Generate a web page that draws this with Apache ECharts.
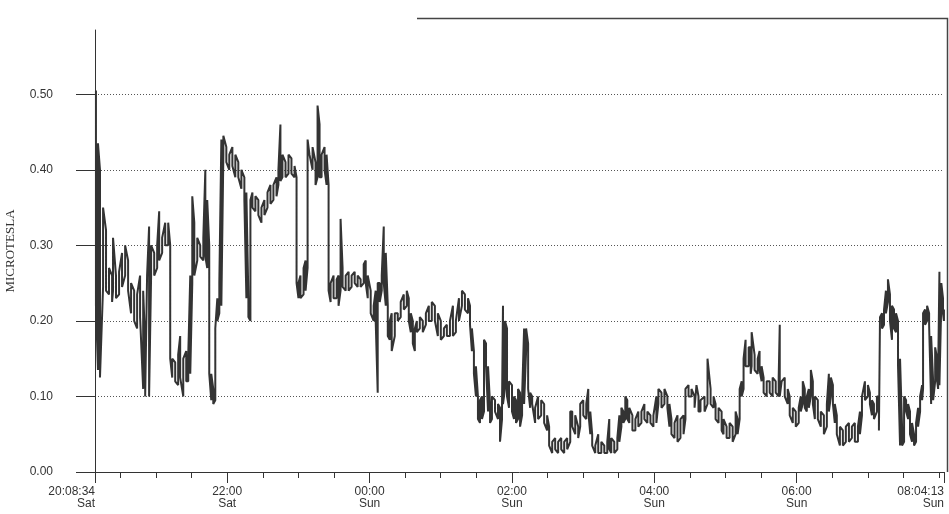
<!DOCTYPE html>
<html>
<head>
<meta charset="utf-8">
<script src="https://cdn.jsdelivr.net/npm/echarts@6.0.0/dist/echarts.min.js"></script>
<style>
  html, body { margin: 0; padding: 0; background: #fff; }
  #target { width: 949px; height: 514px; }
</style>
</head>
<body>
<div id="target"></div>
<script>
// minutes after 20:08:34 (Sat), with the high / low reading of the trace at that moment
const minutes = [
  0.8, 2.5, 4.2, 6.8, 9.3, 11.8, 14.4, 15.2, 17.7, 20.3, 22.8, 25.4, 27.9, 30.4, 33.0, 35.5, 38.0, 40.6, 42.3, 43.9,
  45.6, 47.3, 49.9, 52.4, 54.1, 56.6, 59.2, 61.7, 63.4, 65.1, 67.6, 70.1, 71.8, 74.4, 76.9, 78.6, 80.3, 82.0, 83.7, 86.2,
  88.7, 91.3, 93.0, 94.6, 96.3, 98.0, 99.7, 101.4, 103.1, 104.8, 106.5, 108.2, 110.7, 113.2, 115.8, 118.3, 120.8, 123.4, 125.9, 127.6,
  129.3, 131.0, 132.7, 135.2, 137.7, 140.3, 142.8, 145.4, 147.9, 150.4, 153.0, 154.6, 156.3, 158.0, 160.6, 163.1, 165.6, 168.2, 169.9, 171.5,
  173.2, 175.8, 177.5, 179.2, 180.8, 183.4, 185.9, 187.6, 189.3, 191.0, 193.5, 195.2, 196.9, 198.6, 201.1, 203.7, 205.3, 207.0, 208.7, 211.3,
  213.8, 216.3, 218.9, 221.4, 223.9, 226.5, 228.2, 229.9, 232.4, 234.9, 236.6, 238.3, 240.0, 241.7, 243.4, 245.1, 246.8, 248.5, 250.1, 252.7,
  255.2, 257.7, 260.3, 262.8, 264.5, 266.2, 267.9, 269.6, 271.3, 273.8, 276.3, 278.9, 281.4, 283.9, 286.5, 289.0, 291.5, 294.1, 296.6, 299.2,
  301.7, 304.2, 306.8, 309.3, 311.8, 314.4, 316.1, 317.7, 319.4, 321.1, 322.8, 324.5, 326.2, 327.9, 329.6, 331.3, 333.0, 334.6, 337.2, 339.7,
  341.4, 343.1, 343.9, 345.6, 347.3, 349.0, 351.5, 353.2, 354.9, 356.6, 358.3, 360.0, 361.7, 363.4, 365.1, 366.8, 368.5, 371.0, 373.5, 376.1,
  378.6, 381.1, 382.8, 385.4, 387.9, 390.4, 393.0, 395.5, 398.0, 400.6, 402.3, 404.8, 407.3, 409.0, 411.6, 414.1, 415.8, 417.5, 419.1, 421.7,
  424.2, 426.8, 429.3, 431.8, 433.5, 435.2, 437.7, 440.3, 442.0, 443.7, 445.4, 447.0, 448.7, 450.4, 453.0, 455.5, 458.0, 460.6, 463.1, 465.6,
  468.2, 470.7, 473.2, 474.9, 477.5, 480.0, 482.5, 484.2, 485.9, 488.5, 491.0, 493.5, 496.1, 497.7, 500.3, 502.8, 505.4, 507.0, 508.7, 510.4,
  513.8, 516.3, 518.9, 521.4, 523.1, 525.6, 528.2, 529.8, 532.4, 534.9, 537.5, 540.0, 541.7, 543.4, 545.1, 546.7, 548.4, 551.0, 552.7, 553.5,
  556.0, 558.6, 560.2, 561.9, 563.6, 566.2, 568.7, 571.2, 573.8, 576.3, 577.2, 578.8, 581.4, 583.9, 585.6, 588.2, 590.7, 593.2, 594.9, 596.6,
  598.3, 600.0, 601.7, 603.4, 605.1, 606.8, 609.3, 611.8, 614.4, 616.9, 618.6, 620.3, 622.0, 623.6, 625.3, 627.9, 630.4, 632.9, 635.5, 638.0,
  640.5, 643.1, 644.8, 646.5, 649.0, 651.5, 653.2, 654.9, 656.6, 659.1, 660.8, 661.7, 663.4, 665.1, 666.7, 668.4, 670.1, 671.8, 673.5, 675.2,
  676.9, 678.6, 680.3, 682.0, 683.7, 685.4, 687.0, 688.7, 690.4, 692.1, 693.8, 695.5, 697.2, 698.0, 699.7, 701.4, 703.1, 704.8, 706.5, 708.2,
  709.9, 710.7, 711.8, 713.4, 714.8, 715.6
];
const high = [
  .505, .435, .40, .35, .32, .27, .26, .31, .26, .265, .29, .30, .28, .25, .24, .235, .26, .24, .17, .26,
  .325, .30, .29, .30, .345, .31, .33, .33, .30, .15, .145, .155, .18, .15, .16, .155, .26, .365, .33, .31,
  .30, .31, .40, .36, .30, .13, .11, .19, .23, .25, .44, .445, .43, .42, .43, .42, .41, .40, .39, .37,
  .23, .36, .37, .365, .36, .35, .36, .37, .38, .38, .39, .40, .46, .42, .41, .42, .415, .405, .39, .25,
  .26, .27, .28, .44, .44, .43, .41, .485, .46, .42, .43, .42, .38, .25, .26, .255, .26, .335, .27, .26,
  .265, .26, .265, .26, .255, .275, .28, .26, .24, .22, .24, .25, .25, .26, .325, .29, .22, .20, .21, .21,
  .21, .225, .235, .24, .23, .21, .20, .19, .20, .205, .20, .21, .22, .225, .22, .21, .20, .19, .195, .20,
  .22, .20, .23, .24, .235, .23, .22, .19, .16, .14, .10, .095, .10, .175, .17, .14, .09, .10, .095, .09,
  .085, .09, .22, .20, .19, .12, .115, .10, .095, .11, .105, .10, .19, .19, .17, .105, .10, .085, .10, .095,
  .09, .075, .06, .04, .045, .04, .045, .04, .045, .08, .08, .075, .06, .09, .095, .09, .11, .08, .05, .035,
  .05, .04, .035, .04, .07, .045, .04, .045, .075, .085, .08, .10, .095, .085, .075, .07, .08, .08, .09, .08,
  .075, .075, .10, .11, .105, .11, .10, .09, .07, .065, .075, .07, .075, .11, .115, .11, .10, .115, .10, .095,
  .10, .15, .11, .10, .09, .085, .08, .07, .06, .065, .06, .08, .07, .11, .12, .15, .175, .165, .165, .185,
  .155, .15, .16, .14, .125, .12, .12, .125, .12, .125, .195, .12, .125, .11, .10, .085, .08, .085, .10, .12,
  .11, .10, .11, .135, .12, .10, .095, .08, .075, .09, .13, .125, .115, .09, .075, .06, .055, .06, .065, .06,
  .065, .06, .08, .10, .12, .115, .105, .095, .09, .10, .10, .205, .21, .215, .24, .255, .235, .22, .215, .21,
  .20, .15, .06, .10, .095, .09, .08, .065, .05, .065, .085, .10, .115, .21, .215, .22, .21, .18, .12, .165,
  .15, .13, .265, .25, .23, .215
];
const low = [
  .22, .135, .125, .245, .24, .235, .225, .24, .23, .235, .245, .26, .24, .21, .20, .19, .205, .11, .10, .10,
  .10, .26, .26, .27, .28, .29, .30, .30, .15, .125, .12, .115, .125, .10, .12, .12, .13, .25, .26, .28,
  .285, .28, .285, .27, .13, .095, .09, .095, .20, .21, .22, .42, .41, .40, .405, .39, .39, .375, .36, .23,
  .205, .20, .35, .345, .34, .33, .34, .35, .355, .36, .365, .38, .385, .39, .39, .395, .395, .39, .25, .23,
  .23, .235, .24, .27, .42, .40, .38, .39, .39, .39, .40, .38, .24, .225, .23, .23, .22, .24, .245, .24,
  .24, .245, .25, .245, .245, .25, .25, .23, .21, .20, .20, .105, .225, .24, .25, .22, .18, .175, .16, .18,
  .20, .205, .215, .22, .20, .185, .17, .16, .185, .19, .185, .195, .20, .20, .20, .18, .175, .18, .18, .18,
  .18, .185, .20, .22, .215, .21, .195, .16, .13, .10, .07, .065, .07, .08, .14, .08, .065, .07, .08, .07,
  .04, .07, .09, .11, .10, .085, .08, .07, .065, .07, .06, .075, .09, .16, .11, .085, .09, .065, .07, .075,
  .065, .055, .035, .025, .03, .025, .03, .025, .03, .04, .06, .05, .045, .06, .075, .07, .08, .05, .035, .025,
  .025, .025, .025, .025, .03, .025, .025, .03, .04, .06, .065, .07, .07, .065, .055, .055, .06, .065, .07, .065,
  .065, .06, .065, .09, .085, .09, .085, .06, .05, .045, .04, .045, .05, .07, .10, .10, .085, .085, .08, .08,
  .08, .09, .09, .085, .07, .065, .055, .05, .045, .045, .04, .05, .05, .07, .10, .11, .14, .14, .13, .14,
  .135, .13, .135, .12, .105, .10, .105, .10, .105, .10, .10, .10, .10, .09, .075, .065, .06, .065, .08, .09,
  .085, .08, .085, .10, .09, .07, .07, .06, .05, .06, .08, .10, .09, .065, .05, .035, .035, .04, .04, .045,
  .04, .04, .05, .075, .095, .10, .09, .075, .07, .08, .055, .055, .19, .195, .21, .225, .20, .175, .19, .185,
  .14, .035, .035, .04, .08, .07, .05, .04, .035, .04, .06, .08, .095, .11, .195, .20, .195, .09, .095, .12,
  .12, .11, .115, .225, .21, .20
];

// x axis: labelled ticks every two hours plus the first and last sample
const tickMinutes = [0, 111.43, 231.43, 351.43, 471.43, 591.43, 715.65];
const tickLabels = ['20:08:34\nSat', '22:00\nSat', '00:00\nSun', '02:00\nSun', '04:00\nSun', '06:00\nSun', '08:04:13\nSun'];
// unlabelled ticks on the half hours
const minorMinutes = [21.43, 51.43, 81.43, 141.43, 171.43, 201.43, 261.43, 291.43, 321.43, 381.43, 411.43, 441.43,
  501.43, 531.43, 561.43, 621.43, 651.43, 681.43, 711.43];
const yTicks = [0, 0.1, 0.2, 0.3, 0.4, 0.5];

const myChart = echarts.init(document.getElementById('target'));

const renderChart = () => {
  // trace drawn as a zig-zag between low and high at each moment
  const pts = [];
  minutes.forEach((m, i) => {
    if (i % 2 === 0) {
      pts.push([m, high[i]], [m, low[i]]);
    } else {
      pts.push([m, low[i]], [m, high[i]]);
    }
  });

  const labelFont = { fontFamily: 'Liberation Sans', fontSize: 12, color: '#333' };

  const options = {
    animation: false,
    backgroundColor: '#fff',
    grid: { left: 95, right: 5, top: 30, bottom: 42, containLabel: false, outerBoundsMode: 'none' },
    xAxis: [
      {
        type: 'value',
        min: 0,
        max: 715.65,
        axisLine: { lineStyle: { color: '#333', width: 1 } },
        axisTick: { customValues: tickMinutes, length: 11, lineStyle: { color: '#333' } },
        axisLabel: {
          ...labelFont,
          customValues: tickMinutes,
          margin: 14,
          lineHeight: 12,
          alignMinLabel: 'right',
          alignMaxLabel: 'right',
          formatter: (v) => {
            let best = 0;
            tickMinutes.forEach((t, i) => { if (Math.abs(t - v) < Math.abs(tickMinutes[best] - v)) best = i; });
            return tickLabels[best];
          }
        },
        splitLine: { show: false }
      },
      {
        type: 'value',
        min: 0,
        max: 715.65,
        position: 'bottom',
        axisLine: { show: false },
        axisTick: { customValues: minorMinutes, length: 6, lineStyle: { color: '#333' } },
        axisLabel: { show: false },
        splitLine: { show: false }
      }
    ],
    yAxis: {
      type: 'value',
      min: 0,
      max: 0.585,
      interval: 0.1,
      name: 'MICROTESLA',
      nameLocation: 'middle',
      nameGap: 78,
      nameTextStyle: { fontFamily: 'Liberation Serif', fontSize: 13, color: '#333' },
      axisLine: { show: true, lineStyle: { color: '#333', width: 1 } },
      axisTick: { show: true, customValues: yTicks, length: 19, lineStyle: { color: '#333' } },
      axisLabel: { ...labelFont, customValues: yTicks, margin: 42, formatter: (v) => v.toFixed(2) },
      splitLine: {
        show: true,
        showMinLine: false,
        lineStyle: { color: '#555', type: [1, 2], width: 1 }
      }
    },
    // leftover frame line at the top right of the original picture
    graphic: [
      {
        type: 'polyline',
        shape: { points: [[417, 18.5], [947.5, 18.5], [947.5, 472]] },
        style: { stroke: '#444', lineWidth: 1.5, fill: null }
      }
    ],
    series: [
      {
        name: 'MICROTESLA',
        type: 'line',
        xAxisIndex: 0,
        data: pts,
        showSymbol: false,
        lineStyle: { color: '#333', width: 2 }
      }
    ]
  };
  myChart.setOption(options);
};

renderChart();
</script>
</body>
</html>
